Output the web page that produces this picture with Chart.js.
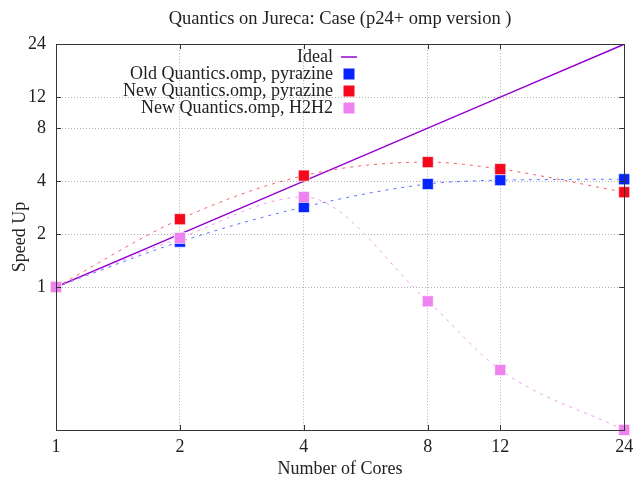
<!DOCTYPE html>
<html>
<head>
<meta charset="utf-8">
<script src="https://cdn.jsdelivr.net/npm/chart.js@4.4.1/dist/chart.umd.min.js"></script>
<style>
    html, body { margin: 0; padding: 0; background: #fff; }
    #wrap { width: 633px; height: 480px; position: relative; }
</style>
</head>
<body>
<div id="wrap"><canvas id="speedupChart"></canvas></div>
<script>
// ---- data ----
const cores = [1, 2, 4, 8, 12, 24];
const ideal = [1, 2, 4, 8, 12, 24];
const oldPyrazine = [1, 1.81, 2.85, 3.85, 4.05, 4.1];
const newPyrazine = [1, 2.43, 4.3, 5.13, 4.68, 3.46];
const newH2H2 = [1, 1.9, 3.25, 0.83, 0.338, 0.154];
const xTicks = [1, 2, 4, 8, 12, 24];
const yTicks = [1, 2, 4, 8, 12, 24];

const FONT = "'Liberation Serif', 'DejaVu Serif', serif";
const TEXT = "#222";

const toPoints = arr => cores.map((c, i) => ({ x: c, y: arr[i] }));

// gnuplot look: frame on top, inner tick marks, legend at top left
const gnuplotFrame = {
    id: "gnuplotFrame",
    afterDatasetsDraw(chart) {
        const { ctx, chartArea: a, scales } = chart;
        ctx.save();
        ctx.strokeStyle = "#333";
        ctx.lineWidth = 1;
        ctx.setLineDash([]);
        ctx.strokeRect(Math.round(a.left) + 0.5, Math.round(a.top) + 0.5,
            Math.round(a.right - a.left), Math.round(a.bottom - a.top));

        const tl = 5;
        ctx.beginPath();
        xTicks.forEach(v => {
            const px = Math.round(scales.x.getPixelForValue(v)) + 0.5;
            ctx.moveTo(px, a.bottom); ctx.lineTo(px, a.bottom - tl);
            ctx.moveTo(px, a.top); ctx.lineTo(px, a.top + tl);
        });
        yTicks.forEach(v => {
            const py = Math.round(scales.y.getPixelForValue(v)) + 0.5;
            ctx.moveTo(a.left, py); ctx.lineTo(a.left + tl, py);
            ctx.moveTo(a.right, py); ctx.lineTo(a.right - tl, py);
        });
        ctx.stroke();

        // legend
        const textRight = 333;
        const sampleX = 349;
        let y = 57;
        ctx.font = "18px " + FONT;
        ctx.textAlign = "right";
        ctx.textBaseline = "middle";
        chart.data.datasets.forEach(ds => {
            ctx.fillStyle = TEXT;
            ctx.fillText(ds.label, textRight, y);
            if (ds.pointRadius === 0) {
                ctx.strokeStyle = ds.borderColor;
                ctx.lineWidth = 1.5;
                ctx.beginPath();
                ctx.moveTo(sampleX - 8, y);
                ctx.lineTo(sampleX + 8, y);
                ctx.stroke();
            } else {
                ctx.fillStyle = ds.pointBackgroundColor;
                ctx.fillRect(sampleX - 5.5, y - 5.5, 11, 11);
            }
            y += 17;
        });
        ctx.restore();
    }
};

const seriesStyle = (color, lineColor, order) => ({
    borderColor: lineColor,
    borderWidth: 1,
    borderDash: [3, 5],
    pointStyle: "rect",
    pointRadius: 7.8,
    pointHoverRadius: 7.8,
    pointBackgroundColor: color,
    pointBorderColor: "rgba(255,255,255,0.6)",
    pointBorderWidth: 1,
    cubicInterpolationMode: "monotone",
    clip: false,
    order: order
});

const chart = new Chart(document.getElementById("speedupChart"), {
    type: "line",
    data: {
        datasets: [
            {
                label: "Ideal",
                data: toPoints(ideal),
                borderColor: "#9400d3",
                borderWidth: 1.5,
                pointRadius: 0,
                tension: 0,
                order: 4
            },
            {
                label: "Old Quantics.omp, pyrazine",
                data: toPoints(oldPyrazine),
                ...seriesStyle("#0524ff", "rgba(40,70,255,0.75)", 3)
            },
            {
                label: "New Quantics.omp, pyrazine",
                data: toPoints(newPyrazine),
                ...seriesStyle("#f5081c", "rgba(245,40,50,0.75)", 2)
            },
            {
                label: "New Quantics.omp, H2H2",
                data: toPoints(newH2H2),
                ...seriesStyle("#ee82ee", "rgba(238,130,238,0.8)", 1)
            }
        ]
    },
    options: {
        responsive: true,
        maintainAspectRatio: false,
        animation: false,
        layout: { padding: { left: 0, right: 6, top: 0, bottom: 0 } },
        plugins: {
            legend: { display: false },
            tooltip: { enabled: false },
            title: {
                display: true,
                fullSize: false,
                text: "Quantics on Jureca: Case (p24+ omp version )",
                color: TEXT,
                font: { family: FONT, size: 18.5, weight: "normal" },
                padding: { top: 8, bottom: 14 }
            }
        },
        scales: {
            x: {
                type: "logarithmic",
                min: 1,
                max: 24,
                afterBuildTicks: s => { s.ticks = xTicks.map(v => ({ value: v })); },
                afterFit: s => { s.height = 50; s.paddingLeft = 0; s.paddingRight = 0; },
                ticks: {
                    callback: v => String(v),
                    autoSkip: false,
                    maxRotation: 0,
                    padding: 6,
                    color: TEXT,
                    font: { family: FONT, size: 18 }
                },
                grid: { color: "#b0b0b0", drawTicks: false },
                border: { display: false, dash: [1, 2] },
                title: {
                    display: true,
                    text: "Number of Cores",
                    color: TEXT,
                    font: { family: FONT, size: 18 },
                    padding: { top: 0, bottom: 0 }
                }
            },
            y: {
                type: "logarithmic",
                min: 0.154,
                max: 24,
                afterBuildTicks: s => { s.ticks = yTicks.map(v => ({ value: v })); },
                afterFit: s => { s.width = 56; s.paddingTop = 0; s.paddingBottom = 0; },
                ticks: {
                    callback: v => String(v),
                    autoSkip: false,
                    padding: 10,
                    color: TEXT,
                    font: { family: FONT, size: 18 }
                },
                grid: { color: "#b0b0b0", drawTicks: false },
                border: { display: false, dash: [1, 2] },
                title: {
                    display: true,
                    text: "Speed Up",
                    color: TEXT,
                    font: { family: FONT, size: 18 },
                    padding: { top: 9, bottom: 0 }
                }
            }
        }
    },
    plugins: [gnuplotFrame]
});
</script>
</body>
</html>
